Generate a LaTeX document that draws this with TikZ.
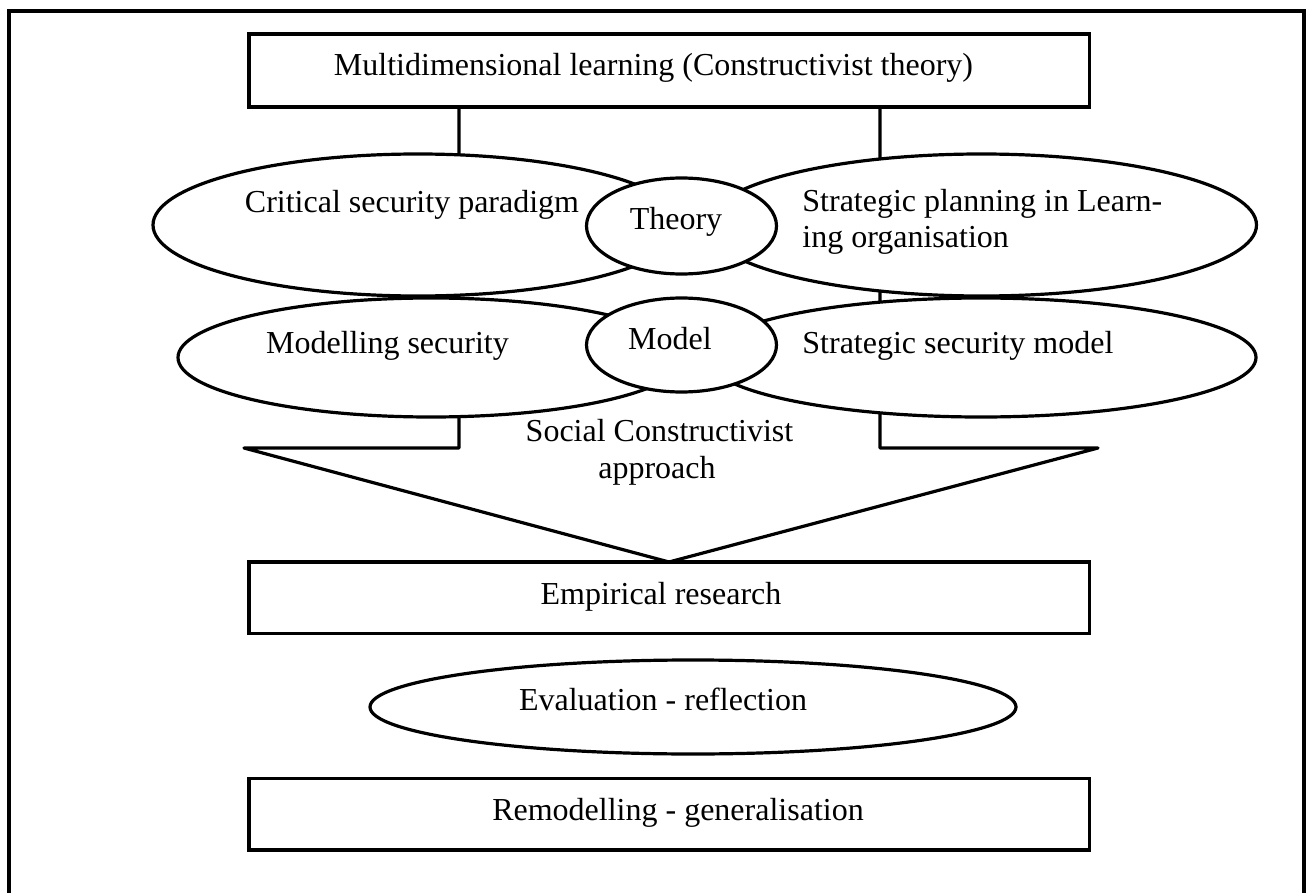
\documentclass[tikz,border=0pt]{standalone}
\usepackage{fontspec}
\setmainfont{Liberation Serif}
\usetikzlibrary{shapes.geometric}
\begin{document}
\begin{tikzpicture}[x=0.5pt,y=-0.5pt,
  lw/.style={line width=1.6pt},
  boxnode/.style={draw,lw,fill=white,rectangle,inner sep=0pt},
  ell/.style={draw,lw,fill=white,ellipse,inner sep=0pt},
  txt/.style={inner sep=0pt,font=\fontsize{16}{18}\selectfont,anchor=base},
  txtl/.style={txt,anchor=base west}]
\useasboundingbox (0,0) rectangle (1307,893);
\fill[white] (0,0) rectangle (1307,893);
\clip (0,0) rectangle (1307,893);
\draw[line width=1.85pt] (9,11) rectangle (1304,910);

% block arrow (shaft + head)
\coordinate (st1) at (459,107);
\coordinate (sl) at (459,448);
\coordinate (hl) at (244,448);
\coordinate (tip) at (669,562);
\coordinate (hr) at (1098,448);
\coordinate (sr) at (880,448);
\coordinate (st2) at (880,107);
\draw[lw,fill=white,line join=round] (st1) -- (sl) -- (hl) -- (tip) -- (hr) -- (sr) -- (st2);

\node[boxnode,minimum width=420.25pt,minimum height=36.5pt] (top) at (669.25,70.5) {};

\node[ell,minimum width=265pt,minimum height=71pt] (crit) at (418,225) {};
\node[ell,minimum width=275pt,minimum height=71pt] (plan) at (981.5,225) {};
\node[ell,minimum width=253pt,minimum height=59.5pt] (modl) at (431,357.5) {};
\node[ell,minimum width=275pt,minimum height=59.5pt] (ssm) at (981,357.5) {};
\node[ell,minimum width=95pt,minimum height=48pt] (theory) at (681.5,226) {};
\node[ell,minimum width=95pt,minimum height=47pt] (model) at (681.5,345) {};

\node[boxnode,minimum width=420.25pt,minimum height=35.75pt] (emp) at (669.25,597.75) {};
\node[ell,minimum width=323pt,minimum height=47pt] (eval) at (693,707) {};
\node[boxnode,minimum width=420.25pt,minimum height=35.75pt] (remod) at (669.25,814.25) {};

% texts
\node[txt] (ttop) at (653.5,76) {Multidimensional learning (Constructivist theory)};
\node[txt] (tcrit) at (412,213) {Critical security paradigm};
\node[txtl] (tplana) at (802,212) {Strategic planning in Learn-};
\node[txtl] (tplanb) at (802,248) {ing organisation};
\node[txt] (ttheory) at (676,230) {Theory};
\node[txt] (tmodl) at (387.5,353) {Modelling security};
\node[txt] (tmodel) at (670,350) {Model};
\node[txtl] (tssm) at (802,353) {Strategic security model};
\node[txt] (tsoca) at (659.5,441) {Social Constructivist};
\node[txt] (tsocb) at (657,478) {approach};
\node[txt] (temp) at (661,604) {Empirical research};
\node[txt] (teval) at (663,710) {Evaluation - reflection};
\node[txt] (tremod) at (678,820) {Remodelling - generalisation};
\end{tikzpicture}
\end{document}
